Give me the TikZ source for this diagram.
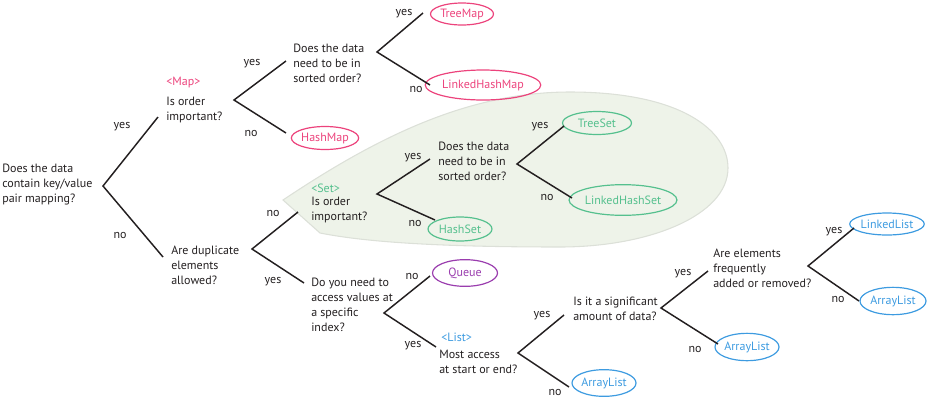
\documentclass[tikz,border=0pt]{standalone}
\usepackage{fontspec}
\setmainfont{PT Sans}
\usetikzlibrary{shapes.geometric}
\definecolor{txt}{HTML}{231F20}
\definecolor{cpink}{HTML}{EC437C}
\definecolor{cgreen}{HTML}{55C08E}
\definecolor{cblue}{HTML}{3D9BE0}
\definecolor{cpurple}{HTML}{9A3DAE}
\definecolor{blobfill}{HTML}{EEF3E9}
\definecolor{blobdraw}{HTML}{DCE0D8}
\tikzset{
  q/.style={anchor=west, align=left, inner sep=0pt, text=txt, font=\fontsize{9}{11.25}\selectfont},
  tag/.style={anchor=west, inner sep=0pt, font=\fontsize{9}{11.25}\selectfont},
  lbl/.style={inner sep=0pt, text=txt, font=\fontsize{9}{11.25}\selectfont},
  leaf/.style={ellipse, draw=#1, text=#1, line width=0.9pt, inner sep=0pt, font=\fontsize{9}{11.25}\selectfont},
  conn/.style={draw=txt, line width=1.1pt},
}
\begin{document}
\begin{tikzpicture}[x=0.75pt, y=-0.75pt]
\useasboundingbox (0,0) rectangle (932,419);
% green set region
\path[fill=blobfill, draw=blobdraw, line width=0.8pt]
  (283,200) .. controls (380,135) and (470,92) .. (570,92)
  .. controls (680,92) and (728,130) .. (728,168)
  .. controls (728,215) and (650,247) .. (560,247)
  .. controls (450,247) and (370,243) .. (320,233) -- cycle;

% questions
\node[q] (root) at (2,184.5) {Does the data\\contain key/value\\pair mapping?};
\node[tag, text=cpink] (maptag) at (166,82) {<Map>};
\node[q] (mapq) at (166,109.5) {Is order\\important?};
\node[q] (mapsort) at (293,63) {Does the data\\need to be in\\sorted order?};
\node[tag, text=cgreen] (settag) at (311,188) {<Set>};
\node[q] (setq) at (311,209.5) {Is order\\important?};
\node[q] (setsort) at (438,161) {Does the data\\need to be in\\sorted order?};
\node[q] (dupq) at (171,265.5) {Are duplicate\\elements\\allowed?};
\node[q] (idxq) at (311,305) {Do you need to\\access values at\\a specific\\index?};
\node[tag, text=cblue] (listtag) at (441,337) {<List>};
\node[q] (listq) at (439,361.5) {Most access\\at start or end?};
\node[q] (sigq) at (573,309) {Is it a significant\\amount of data?};
\node[q] (freqq) at (713,268) {Are elements\\frequently\\added or removed?};

% leaves
\node[leaf=cpink, minimum width=47.25pt, minimum height=16.5pt] (treemap) at (462,14) {TreeMap};
\node[leaf=cpink, minimum width=74.25pt, minimum height=22.5pt] (lhmap) at (483,85) {LinkedHashMap};
\node[leaf=cpink, minimum width=48pt, minimum height=17.25pt] (hashmap) at (325,138) {HashMap};
\node[leaf=cgreen, minimum width=51.75pt, minimum height=17.25pt] (treeset) at (597,123) {TreeSet};
\node[leaf=cgreen, minimum width=72.75pt, minimum height=23pt] (lhset) at (623,200) {LinkedHashSet};
\node[leaf=cgreen, minimum width=48pt, minimum height=18pt] (hashset) at (460,229) {HashSet};
\node[leaf=cpurple, minimum width=48.75pt, minimum height=20pt] (queue) at (465,273) {Queue};
\node[leaf=cblue, minimum width=48pt, minimum height=16.5pt] (linkedlist) at (887,224) {LinkedList};
\node[leaf=cblue, minimum width=49.5pt, minimum height=20.5pt] (alr) at (893,301) {ArrayList};
\node[leaf=cblue, minimum width=48pt, minimum height=20.5pt] (alm) at (747,347) {ArrayList};
\node[leaf=cblue, minimum width=48pt, minimum height=20pt] (alb) at (604,383) {ArrayList};

% branch points and ends
\coordinate (v0) at (103,186);  \coordinate (e0y) at (158,117); \coordinate (e0n) at (163,257);
\coordinate (v1) at (234,100);  \coordinate (e1y) at (286,61);  \coordinate (e1n) at (286,133);
\coordinate (v2) at (377,52);   \coordinate (e2y) at (423,13);  \coordinate (e2n) at (430,85);
\coordinate (v3) at (377,194);  \coordinate (e3y) at (430,159); \coordinate (e3n) at (435,220);
\coordinate (v4) at (517,164);  \coordinate (e4y) at (564,126); \coordinate (e4n) at (572,198);
\coordinate (v5) at (252,249);  \coordinate (e5n) at (298,212); \coordinate (e5y) at (304,283);
\coordinate (v6) at (384,313);  \coordinate (e6n) at (430,276); \coordinate (e6y) at (436,347);
\coordinate (v7) at (518,353);  \coordinate (e7y) at (564,315); \coordinate (e7n) at (569,387);
\coordinate (v8) at (661,308);  \coordinate (e8y) at (708,271); \coordinate (e8n) at (718,344);
\coordinate (v9) at (808,266);  \coordinate (e9y) at (854,228); \coordinate (e9n) at (859,301);

\foreach \i in {0,...,4} {\draw[conn] (e\i y) -- (v\i) -- (e\i n);}
\foreach \i in {5,...,9} {\draw[conn] (e\i y) -- (v\i) -- (e\i n);}

% yes / no labels
\node[lbl] (l0y) at (122,127) {yes};  \node[lbl] (l0n) at (120,235) {no};
\node[lbl] (l1y) at (252,64)  {yes};  \node[lbl] (l1n) at (251,133) {no};
\node[lbl] (l2y) at (404,14)  {yes};  \node[lbl] (l2n) at (416,89)  {no};
\node[lbl] (l3y) at (413,158) {yes};  \node[lbl] (l3n) at (415,223) {no};
\node[lbl] (l4y) at (540,127) {yes};  \node[lbl] (l4n) at (547,197) {no};
\node[lbl] (l5n) at (273,213) {no};   \node[lbl] (l5y) at (273,282) {yes};
\node[lbl] (l6n) at (412,276) {no};   \node[lbl] (l6y) at (413,346) {yes};
\node[lbl] (l7y) at (542,316) {yes};  \node[lbl] (l7n) at (555,392) {no};
\node[lbl] (l8y) at (683,274) {yes};  \node[lbl] (l8n) at (695,349) {no};
\node[lbl] (l9y) at (834,232) {yes};  \node[lbl] (l9n) at (838,299) {no};
\end{tikzpicture}
\end{document}
